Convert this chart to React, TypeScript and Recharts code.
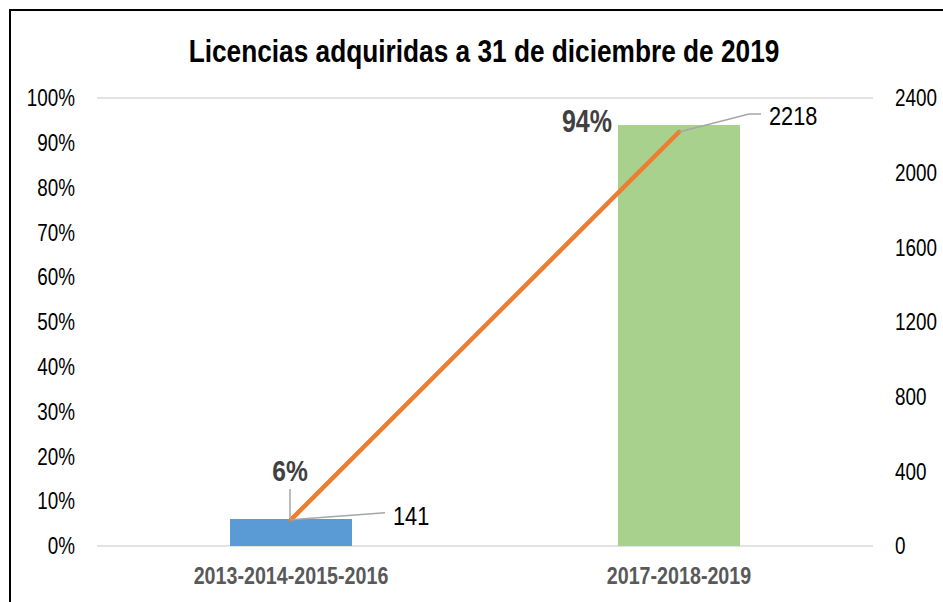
import React from 'react'
import { Bar, CartesianGrid, Cell, ComposedChart, LabelList, Line, XAxis, YAxis } from 'recharts'

const categories = ['2013-2014-2015-2016', '2017-2018-2019']
const shares = [6, 94]
const licences = [141, 2218]
const barColors = ['#5B9BD5', '#A9D18E']
const pctTicks = [0, 10, 20, 30, 40, 50, 60, 70, 80, 90, 100]
const countTicks = [0, 400, 800, 1200, 1600, 2000, 2400]

const data = categories.map((cat, i) => ({ cat, share: shares[i], count: licences[i] }))

const FONT = "'Liberation Sans', Arial, sans-serif"
const NARROW = 0.82
const LEADER = '#A6A6A6'

// leader-line elbows and text anchors relative to each line point
const LINE_LABELS = [
  { pts: [[94, -7]], text: [102, -4] },
  { pts: [[70, -18], [82, -18]], text: [90, -16] },
]

function NarrowText({ x, y, anchor = 'start', size, bold = false, fill = '#000', children }: any) {
  return (
    <text
      transform={`translate(${x} ${y}) scale(${NARROW} 1)`}
      textAnchor={anchor}
      dominantBaseline="central"
      fontFamily={FONT}
      fontWeight={bold ? 'bold' : 'normal'}
      fontSize={size}
      fill={fill}
    >
      {children}
    </text>
  )
}

function CountLabel(props: any) {
  const { x, y, value, index } = props
  const cfg = LINE_LABELS[index]
  const d = `M ${x} ${y} ` + cfg.pts.map((p) => `L ${x + p[0]} ${y + p[1]}`).join(' ')
  return (
    <g>
      <path d={d} stroke={LEADER} strokeWidth={1.5} fill="none" />
      <NarrowText x={x + cfg.text[0]} y={y + cfg.text[1]} size={26.5}>
        {value}
      </NarrowText>
    </g>
  )
}

function ShareLabel(props: any) {
  const { x, y, width, value, index } = props
  const cx = x + width / 2
  if (index === 0) {
    return (
      <g>
        <line x1={cx - 1} y1={y - 30} x2={cx - 1} y2={y} stroke={LEADER} strokeWidth={1.5} />
        <NarrowText x={cx - 1} y={y - 49} anchor="middle" size={30} bold fill="#404040">
          {value}%
        </NarrowText>
      </g>
    )
  }
  return (
    <NarrowText x={x - 6} y={y - 3} anchor="end" size={30.5} bold fill="#404040">
      {value}%
    </NarrowText>
  )
}

const PctTick = (p: any) => (
  <NarrowText x={p.x} y={p.y} anchor="end" size={23}>
    {p.payload.value}%
  </NarrowText>
)

const CountTick = (p: any) => (
  <NarrowText x={p.x} y={p.y} anchor="start" size={23}>
    {p.payload.value}
  </NarrowText>
)

const CatTick = (p: any) => (
  <NarrowText x={p.x} y={p.y + 9} anchor="middle" size={24} bold fill="#595959">
    {p.payload.value}
  </NarrowText>
)

export default function App() {
  return (
    <div style={{ position: 'absolute', left: 0, top: 0, width: 943, height: 602, overflow: 'hidden', background: '#fff' }}>
      <div
        style={{
          position: 'absolute',
          left: 9,
          top: 9,
          width: 1000,
          height: 1000,
          border: '2px solid #000',
        }}
      />
      <div
        style={{
          position: 'absolute',
          left: 0,
          width: 968,
          top: 32,
          textAlign: 'center',
          fontFamily: FONT,
          fontWeight: 'bold',
          fontSize: 32,
          lineHeight: '38px',
          color: '#000',
          transform: `scaleX(${NARROW})`,
          transformOrigin: '484px 0',
          whiteSpace: 'nowrap',
        }}
      >
        Licencias adquiridas a 31 de diciembre de 2019
      </div>
      <div style={{ position: 'absolute', left: 0, top: 0 }}>
        <ComposedChart width={943} height={602} data={data} margin={{ top: 98, right: 0, bottom: 0, left: 0 }}>
          <CartesianGrid vertical={false} stroke="#D9D9D9" strokeWidth={1.3} />
          <XAxis dataKey="cat" axisLine={false} tickLine={false} height={56} tickMargin={15} tick={CatTick} />
          <YAxis
            yAxisId="pct"
            domain={[0, 100]}
            ticks={pctTicks}
            width={97}
            axisLine={false}
            tickLine={false}
            tickMargin={16}
            tick={PctTick}
          />
          <YAxis
            yAxisId="cnt"
            orientation="right"
            domain={[0, 2400]}
            ticks={countTicks}
            width={70}
            axisLine={false}
            tickLine={false}
            tickMargin={16}
            tick={CountTick}
          />
          <Bar yAxisId="pct" dataKey="share" barSize={122} isAnimationActive={false}>
            {data.map((_, i) => (
              <Cell key={i} fill={barColors[i]} />
            ))}
            <LabelList dataKey="share" content={ShareLabel} />
          </Bar>
          <Line
            yAxisId="cnt"
            dataKey="count"
            stroke="#ED7D31"
            strokeWidth={4.5}
            strokeLinecap="round"
            dot={false}
            activeDot={false}
            isAnimationActive={false}
          >
            <LabelList dataKey="count" content={CountLabel} />
          </Line>
        </ComposedChart>
      </div>
    </div>
  )
}
